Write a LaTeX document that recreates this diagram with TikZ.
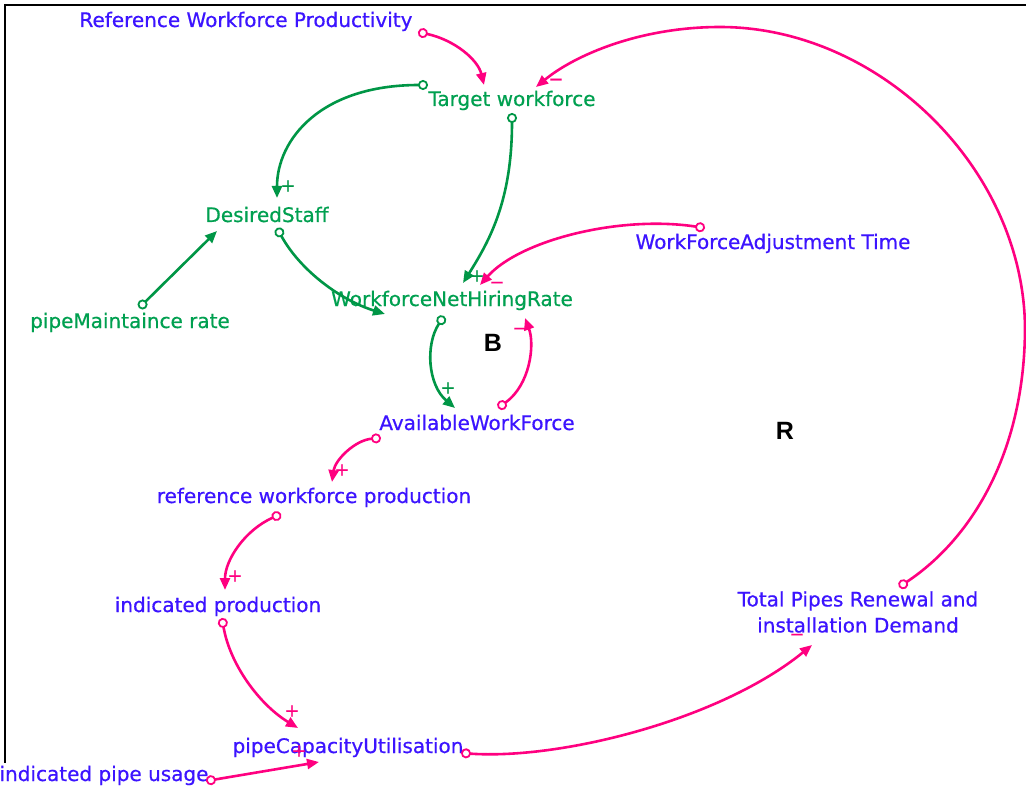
\documentclass[tikz,border=0pt]{standalone}
\usepackage{fontspec}
\setmainfont{DejaVu Sans}
\newfontfamily\labelfont[FakeBold=0.6]{DejaVu Sans}
\newfontfamily\loopfont{Liberation Sans}
\usetikzlibrary{arrows.meta}
\definecolor{linkgreen}{RGB}{0,150,70}
\definecolor{textgreen}{RGB}{0,160,80}
\definecolor{linkpink}{RGB}{255,0,128}
\definecolor{textblue}{RGB}{60,20,255}
\begin{document}
\begin{tikzpicture}[x=1pt,y=-1pt,
  lbl/.style={font=\labelfont\fontsize{20}{26}\selectfont, inner sep=0pt, anchor=base},
  auxvar/.style={lbl, text=textblue},
  wfvar/.style={lbl, text=textgreen},
  link/.style={line width=2.6pt, {Circle[open,length=10pt,width=10pt,line width=1.8pt]}-{Triangle[length=12pt,width=10pt]}},
  glink/.style={link, color=linkgreen},
  plink/.style={link, color=linkpink},
  pol/.style={font=\labelfont\fontsize{18}{18}\selectfont, inner sep=0pt},
  gpol/.style={pol, text=linkgreen},
  ppol/.style={pol, text=linkpink},
  looplbl/.style={font=\loopfont\bfseries\fontsize{25}{25}\selectfont, inner sep=0pt}
]
\useasboundingbox (0,0) rectangle (1026,789);
\fill[white] (0,0) rectangle (1026,789);

% frame
\draw[line width=2.5pt] (4,5) -- (1026,5);
\draw[line width=2.5pt] (5,4) -- (5,763);

% variables
\node[auxvar] (rwpr)   at (246,27)  {Reference Workforce Productivity};
\node[wfvar]  (tw)     at (512,106) {Target workforce};
\node[wfvar]  (ds)     at (267,222) {DesiredStaff};
\node[wfvar]  (wnhr)   at (452,306) {WorkforceNetHiringRate};
\node[wfvar]  (pmr)    at (130,328) {pipeMaintaince rate};
\node[auxvar] (wfat)   at (773,249) {WorkForceAdjustment Time};
\node[auxvar] (awf)    at (477,430) {AvailableWorkForce};
\node[auxvar] (rwprod) at (314,503) {reference workforce production};
\node[auxvar] (ip)     at (218,612) {indicated production};
\node[auxvar, anchor=center, align=center] (tpr) at (858,612)
  {Total Pipes Renewal and\\installation Demand};
\node[auxvar] (pcu)    at (348,753) {pipeCapacityUtilisation};
\node[auxvar] (ipu)    at (104,781) {indicated pipe usage};

% loop markers
\node[looplbl] (loopB) at (493,343) {B};
\node[looplbl] (loopR) at (785,431) {R};

% causal links
\draw[plink] ([shift={(172,5)}]rwpr.base) .. controls (455,40) and (478,60) .. ([shift={(-28,-21)}]tw.base);
\draw[plink] ([shift={(41,-25)}]tpr.center) .. controls (970,540) and (1024,455) .. (1025,330)
  .. controls (1025,170) and (880,27) .. (720,27)
  .. controls (640,27) and (575,55) .. ([shift={(24,-19)}]tw.base);
\draw[glink] ([shift={(-84,-21)}]tw.base) .. controls (320,85) and (277,140) .. ([shift={(10,-24)}]ds.base);
\draw[glink] ([shift={(0,7)}]tw.base) .. controls (512,200) and (490,240) .. ([shift={(11,-23)}]wnhr.base);
\draw[glink] ([shift={(10,6)}]ds.base) .. controls (300,270) and (340,300) .. ([shift={(-67,8)}]wnhr.base);
\draw[glink] ([shift={(9,-20)}]pmr.base) -- ([shift={(-50,9)}]ds.base);
\draw[plink] ([shift={(-68,-21)}]wfat.base) .. controls (620,215) and (520,240) .. ([shift={(28,-21)}]wnhr.base);
\draw[glink] ([shift={(-8,10)}]wnhr.base) .. controls (425,345) and (428,385) .. ([shift={(-22,-22)}]awf.base);
\draw[plink] ([shift={(21,-22)}]awf.base) .. controls (530,385) and (535,345) .. ([shift={(73,12)}]wnhr.base);
\draw[plink] ([shift={(-96,8)}]awf.base) .. controls (355,440) and (335,460) .. ([shift={(18,-21)}]rwprod.base);
\draw[plink] ([shift={(-33,11)}]rwprod.base) .. controls (245,530) and (225,560) .. ([shift={(7,-22)}]ip.base);
\draw[plink] ([shift={(4,6)}]ip.base) .. controls (230,665) and (260,705) .. ([shift={(-50,-25)}]pcu.base);
\draw[plink] ([shift={(102,0)}]ipu.base) -- ([shift={(-29,9)}]pcu.base);
\draw[plink] ([shift={(113,0)}]pcu.base) .. controls (560,760) and (720,720) .. ([shift={(-46,33)}]tpr.center);

% link polarities
\node[ppol] (s1)  at (556,82)  {−};
\node[gpol] (s2)  at (288,186) {+};
\node[gpol] (s3)  at (477,276) {+};
\node[ppol] (s4)  at (497,285) {−};
\node[gpol] (s5)  at (448,388) {+};
\node[ppol] (s6)  at (520,331) {−};
\node[ppol] (s7)  at (342,470) {+};
\node[ppol] (s8)  at (235,576) {+};
\node[ppol] (s9)  at (292,711) {+};
\node[ppol] (s10) at (299,751) {+};
\node[ppol] (s11) at (797,637) {−};
\end{tikzpicture}
\end{document}
